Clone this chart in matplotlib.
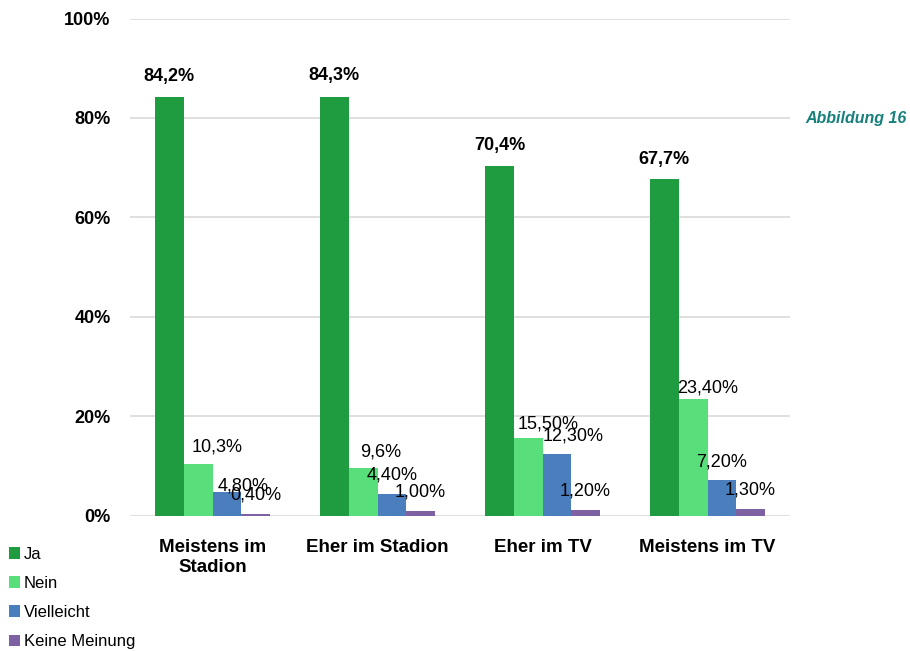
import matplotlib
matplotlib.use("Agg")
import matplotlib.pyplot as plt
import numpy as np
from matplotlib.patches import Patch

plt.rcParams['font.family'] = ['Liberation Sans', 'DejaVu Sans']

categories = ["Meistens im\nStadion", "Eher im Stadion", "Eher im TV", "Meistens im TV"]
series_names = ["Ja", "Nein", "Vielleicht", "Keine Meinung"]
ja = [84.2, 84.3, 70.4, 67.7]
nein = [10.3, 9.6, 15.5, 23.4]
vielleicht = [4.8, 4.4, 12.3, 7.2]
keine = [0.4, 1.0, 1.2, 1.3]
ja_labels = ["84,2%", "84,3%", "70,4%", "67,7%"]
nein_labels = ["10,3%", "9,6%", "15,50%", "23,40%"]
vielleicht_labels = ["4,80%", "4,40%", "12,30%", "7,20%"]
keine_labels = ["0,40%", "1,00%", "1,20%", "1,30%"]
yticks = [0, 20, 40, 60, 80, 100]
ytick_labels = ["0%", "20%", "40%", "60%", "80%", "100%"]

colors = ["#1f9c3f", "#58df7c", "#4a7ebd", "#7e61a3"]
series = [ja, nein, vielleicht, keine]
labels = [ja_labels, nein_labels, vielleicht_labels, keine_labels]
# label offsets in pixels (dx, dy) relative to bar top center
offsets = [
    [(0, 21), (0, 21), (0, 20), (0, 20)],
    [(19, 17), (18, 16), (20, 14), (14, 11)],
    [(16, 6), (0, 19), (16, 18), (0, 18)],
    [(0, 19), (0, 19), (0, 19), (0, 19)],
]

fig = plt.figure(figsize=(9.1, 6.51), dpi=100)
ax = fig.add_axes([130/910, 1-515.5/651, 660/910, 497/651])

x = np.arange(len(categories))
w = 0.174
for s, (vals, col) in enumerate(zip(series, colors)):
    xs = x + (s - 1.5) * w
    ax.bar(xs, vals, width=w, color=col, zorder=3, label=series_names[s])
    for i, (xi, v) in enumerate(zip(xs, vals)):
        dx, dy = offsets[s][i]
        ax.annotate(labels[s][i], (xi, v), xytext=(dx, dy), textcoords='offset pixels',
                    ha='center', va='center', fontsize=13,
                    fontweight='bold' if s == 0 else 'normal', color='black', zorder=5)

ax.set_xlim(-0.5, 3.5)
ax.set_ylim(0, 100)
ax.set_yticks(yticks)
ax.set_yticklabels(ytick_labels, fontsize=13, fontweight='bold')
ax.set_xticks(x)
ax.set_xticklabels(categories, fontsize=13.5, fontweight='bold', linespacing=1.25)
ax.tick_params(axis='both', length=0)
ax.tick_params(axis='y', pad=14)
ax.tick_params(axis='x', pad=17)
ax.grid(axis='y', color='#d9d9d9', linewidth=1.2, zorder=0)
for sp in ax.spines.values():
    sp.set_visible(False)

handles = [Patch(facecolor=c, label=n) for c, n in zip(colors, series_names)]
fig.legend(handles=handles, loc='upper left', bbox_to_anchor=(2/910, 1-540/651),
           frameon=False, fontsize=12, handlelength=0.7, handleheight=0.7,
           handletextpad=0.2, labelspacing=0.85, borderaxespad=0)

fig.text(907/910, 1-118/651, "Abbildung 16", ha='right', va='center', fontsize=11.5,
         fontweight='bold', fontstyle='italic', color='#16807c')

fig.savefig("out.png", dpi=100)
